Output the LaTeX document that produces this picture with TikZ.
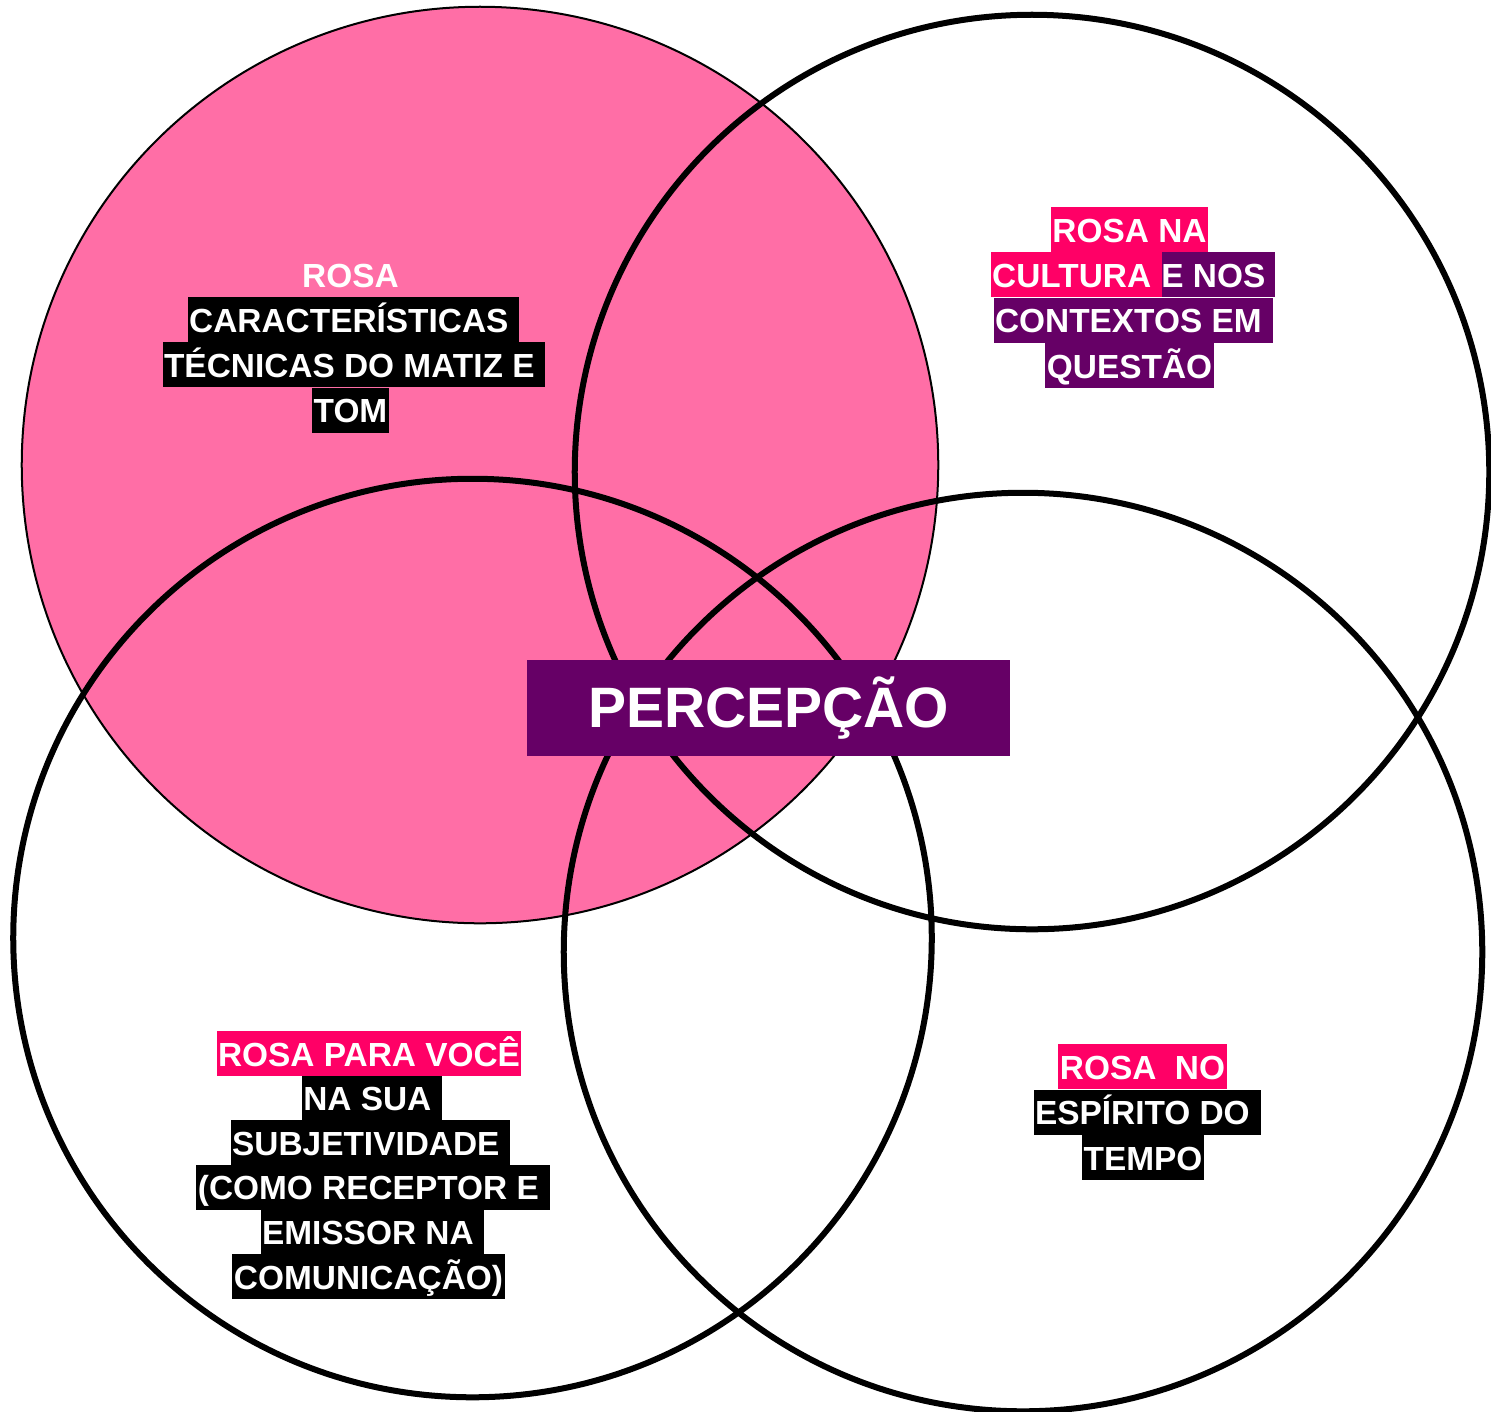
\documentclass[tikz,border=0pt]{standalone}
\usepackage{fontspec}
\setmainfont{Liberation Sans}
\usetikzlibrary{positioning}
\definecolor{rosafill}{HTML}{FF6EA6}
\definecolor{rosaforte}{HTML}{FF0066}
\definecolor{roxo}{HTML}{660066}
\newcommand{\vazio}{\kern.278em}
\tikzset{
  lbl/.style={font=\fontsize{9.5pt}{11pt}\selectfont\bfseries, text=white,
    inner xsep=0.015cm, inner ysep=0pt, text height=0.35cm, text depth=0.1cm},
  preto/.style={lbl, fill=black},
  rosa/.style={lbl, fill=rosaforte},
  roxa/.style={lbl, fill=roxo},
  anel/.style={line width=0.06cm}
}
\begin{document}
\begin{tikzpicture}[x=0.01cm, y=-0.01cm]
\useasboundingbox (0,0) rectangle (1491,1411);
% circulos
\draw[fill=rosafill, line width=0.02cm] (480,465) circle (4.58cm);
\draw[anel] (1032,472) circle (4.57cm);
\draw[anel] (472.5,938) circle (4.59cm);
\draw[anel] (1023,952) circle (4.59cm);
% rosa - caracteristicas
\node (rosa1) [lbl] at (350.5,274.5) {ROSA};
\node (carac) [preto] at (353.5,319.5) {CARACTERÍSTICAS\vazio};
\node (tecn) [preto] at (354,364.5) {TÉCNICAS DO MATIZ E\vazio};
\node (tom) [preto] at (350.5,410) {TOM};
% rosa na cultura
\node (rosana) [rosa] at (1129.5,229.5) {ROSA NA};
\node (enos) [roxa, inner xsep=0pt] at (1218,274.5) {E NOS\vazio};
\node (cultura) [rosa, left=-0.02cm of enos] {CULTURA\vazio};
\node (contex) [roxa] at (1133,320) {CONTEXTOS EM\vazio};
\node (quest) [roxa] at (1129.5,365.5) {QUESTÃO};
% rosa para voce
\node (rosavc) [rosa] at (369,1053.5) {ROSA PARA VOCÊ};
\node (nasua) [preto] at (372,1098) {NA SUA\vazio};
\node (subj) [preto] at (370.5,1142.5) {SUBJETIVIDADE\vazio};
\node (como) [preto] at (373,1187) {(COMO RECEPTOR E\vazio};
\node (emiss) [preto] at (372.5,1232) {EMISSOR NA\vazio};
\node (comun) [preto] at (368.5,1276.5) {COMUNICAÇÃO)};
% rosa no espirito do tempo
\node (rosano) [rosa] at (1142.5,1066.5) {ROSA\ \ NO};
\node (espir) [preto] at (1147,1112) {ESPÍRITO DO\vazio};
\node (tempo) [preto] at (1143,1157.5) {TEMPO};
% centro
\node (percep) [fill=roxo, text=white, inner sep=0pt, minimum width=4.83cm,
  minimum height=0.96cm, font=\fontsize{16.2pt}{19pt}\selectfont\bfseries]
  at (768.5,708) {PERCEPÇÃO};
\end{tikzpicture}
\end{document}
